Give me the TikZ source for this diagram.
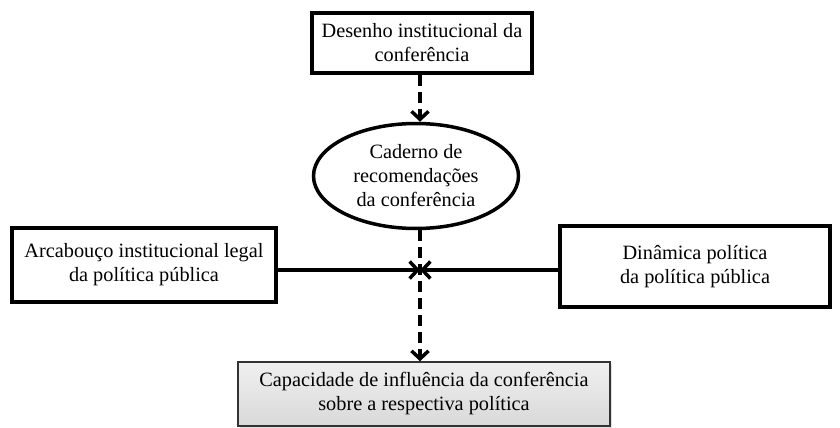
\documentclass[tikz,border=0pt]{standalone}
\usepackage{fontspec}
\setmainfont{Liberation Serif}
\usetikzlibrary{arrows.meta,shapes.geometric,shadows}
\begin{document}
\begin{tikzpicture}[x=1pt,y=1pt,
  txt/.style={font=\fontsize{20.3}{24}\selectfont, align=center, inner sep=0pt},
  boxa/.style={txt, draw=black, line width=4.5pt},
  boxb/.style={txt, draw=black, line width=3.5pt},
  ell/.style={txt, draw=black, line width=3.5pt, ellipse},
  boxc/.style={txt, draw=black!80, line width=1.5pt, top color=gray!12, bottom color=gray!30, drop shadow={shadow xshift=2pt,shadow yshift=-2pt,fill=gray!50}},
  tip/.style={-{Straight Barb[length=8pt,width=17pt]}},
  dsh/.style={line width=3.5pt, dash pattern=on 11pt off 6pt},
  sol/.style={line width=3.5pt}]
\useasboundingbox (0,0) rectangle (840,-428);
\node[boxa, minimum width=220, minimum height=60] (top) at (422,-43) {Desenho institucional da\\conferência};
\node[ell, minimum width=205, minimum height=105] (cad) at (416,-176) {Caderno de\\recomendações\\da conferência};
\node[boxb, minimum width=264, minimum height=74] (left) at (144,-265) {Arcabouço institucional legal\\da política pública};
\node[boxb, minimum width=270, minimum height=81] (right) at (695,-266.5) {Dinâmica política\\da política pública};
\node[boxc, minimum width=372, minimum height=64] (bot) at (424,-394) {Capacidade de influência da conferência\\sobre a respectiva política};
\coordinate (j) at (420,-270);
\draw[dsh, tip] (top.south -| 420,0) -- (cad.north -| 420,0);
\draw[dsh, tip] (cad.south -| 420,0) -- (bot.north -| 420,0);
\draw[sol, tip] (left.east |- j) -- (j);
\draw[sol, tip] (right.west |- j) -- (j);
\end{tikzpicture}
\end{document}
